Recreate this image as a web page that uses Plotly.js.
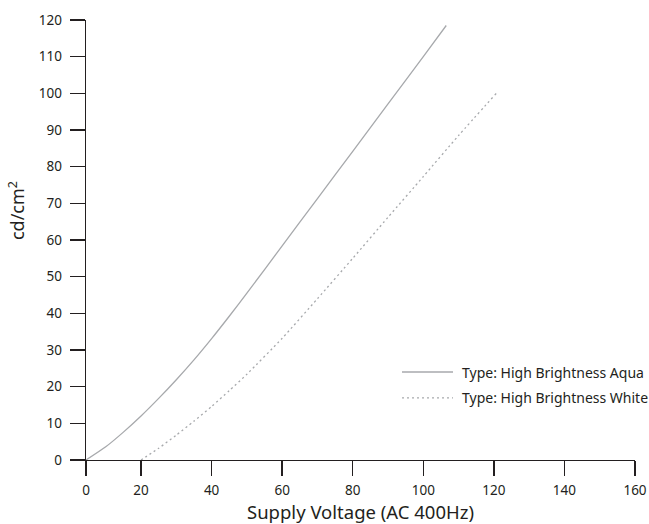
<!DOCTYPE html>
<html>
<head>
<meta charset="utf-8">
<script src="https://cdn.plot.ly/plotly-3.0.1.min.js"></script>
<style>html,body{margin:0;padding:0;background:#fff;}#chart{width:649px;height:524px;}</style>
</head>
<body>
<div id="chart"></div>
<script>
// Series values (supply voltage on the chart's x axis, luminance cd/cm²)
const aquaVoltage = [4.4, 10, 15, 20, 25, 30, 35, 40, 45, 50, 60, 70, 80, 90, 100, 106.5];
const aquaLum     = [0, 3.6, 7.6, 12.0, 16.8, 21.9, 27.3, 33.1, 39.2, 45.5, 58.4, 71.3, 84.2, 97.1, 110.0, 118.5];
const whiteVoltage = [20, 25, 30, 35, 40, 45, 50, 60, 70, 80, 90, 100, 110, 120.7];
const whiteLum     = [0, 3.2, 6.8, 10.6, 14.6, 18.9, 23.4, 33.2, 44.0, 55.0, 66.2, 77.3, 88.5, 100];
const seriesNames = ['Type: High Brightness Aqua', 'Type: High Brightness White'];
// Tick labels (first tick sits at the axis origin as drawn)
const xTickVals = [4.4, 20, 40, 60, 80, 100, 120, 140, 160];
const xTickText = ['0', '20', '40', '60', '80', '100', '120', '140', '160'];
const yTickVals = [0, 10, 20, 30, 40, 50, 60, 70, 80, 90, 100, 110, 120];

const font = 'Noto Sans, Open Sans, sans-serif';
const grey = '#a7a9ac';
const ink = '#231f20';
const dotted = '2px,3px';

const traces = [
  {x: aquaVoltage, y: aquaLum, name: seriesNames[0], mode: 'lines',
   line: {color: grey, width: 1.3, shape: 'spline', smoothing: 0.6}},
  {x: whiteVoltage, y: whiteLum, name: seriesNames[1], mode: 'lines',
   line: {color: grey, width: 1.3, dash: dotted, shape: 'spline', smoothing: 0.6}}
];

// Legend keys (drawn in paper space)
const legY = [0.2, 0.141];
const legendShapes = [
  {type: 'line', xref: 'paper', yref: 'paper', x0: 0.5756, x1: 0.6685, y0: legY[0], y1: legY[0],
   line: {color: grey, width: 1.3}},
  {type: 'line', xref: 'paper', yref: 'paper', x0: 0.5756, x1: 0.6685, y0: legY[1], y1: legY[1],
   line: {color: grey, width: 1.3, dash: dotted}}
];
const legendText = seriesNames.map((n, i) => ({
  text: n, xref: 'paper', yref: 'paper', x: 0.6812, y: legY[i], xanchor: 'left', yanchor: 'middle',
  showarrow: false, font: {family: font, size: 14, color: ink}
}));

const layout = {
  width: 649, height: 524,
  margin: {l: 86, r: 14, t: 20, b: 64},
  paper_bgcolor: '#fff', plot_bgcolor: '#fff',
  font: {family: font, color: ink, size: 13},
  showlegend: false,
  shapes: legendShapes,
  annotations: legendText.concat([
    {text: 'cd/cm<sup>2</sup>', xref: 'paper', yref: 'paper', x: -0.1257, y: 0.568,
     xanchor: 'center', yanchor: 'middle', textangle: -90, showarrow: false,
     font: {family: font, size: 18, color: ink}}
  ]),
  xaxis: {
    range: [4.4, 160], tickmode: 'array', tickvals: xTickVals, ticktext: xTickText,
    showgrid: false, zeroline: false, showline: true, linecolor: ink, linewidth: 1.4,
    ticks: 'outside', ticklen: 15, tickwidth: 1.4, tickcolor: ink, ticklabelstandoff: 2,
    tickfont: {family: font, size: 13.5, color: ink},
    title: {text: 'Supply Voltage (AC 400Hz)', font: {family: font, size: 18.5, color: ink}, standoff: 11}
  },
  yaxis: {
    range: [0, 120], tickmode: 'array', tickvals: yTickVals,
    showgrid: false, zeroline: false, showline: true, linecolor: ink, linewidth: 1.4,
    ticks: 'outside', ticklen: 15, tickwidth: 1.4, tickcolor: ink, ticklabelstandoff: 5,
    tickfont: {family: font, size: 13.5, color: ink}
  }
};

Plotly.newPlot('chart', traces, layout, {staticPlot: true, displayModeBar: false});
</script>
</body>
</html>
